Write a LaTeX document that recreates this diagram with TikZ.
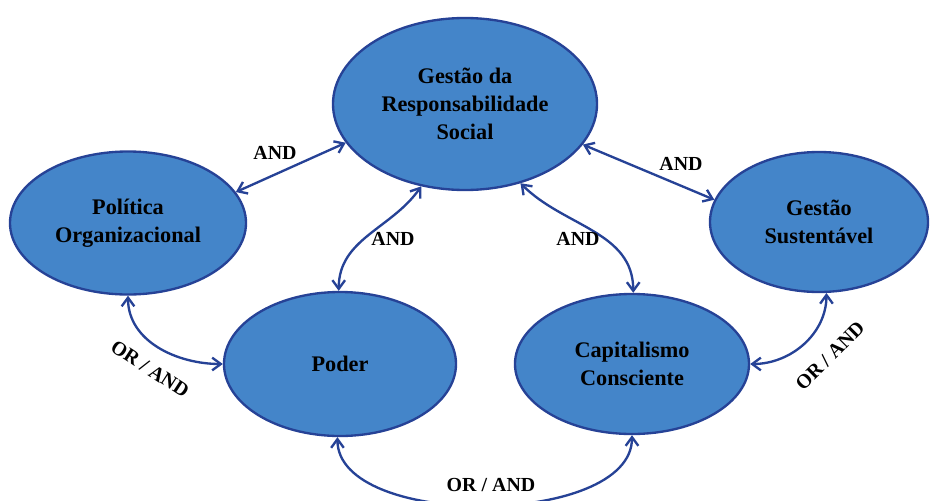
\documentclass[tikz,border=0pt]{standalone}
\usepackage{fontspec}
\setmainfont{Liberation Serif}
\usetikzlibrary{shapes.geometric,arrows.meta}
\definecolor{elfill}{RGB}{68,133,201}
\definecolor{eldraw}{RGB}{38,66,150}
\begin{document}
\begin{tikzpicture}[x=0.03cm,y=-0.03cm,
  el/.style={ellipse,draw=eldraw,line width=2pt,fill=elfill,inner sep=0pt,align=center,
    font=\fontsize{19}{24}\selectfont\bfseries},
  lk/.style={draw=eldraw,line width=2pt,{Straight Barb[length=2.6mm,width=3.8mm]}-{Straight Barb[length=2.6mm,width=3.8mm]}},
  lb/.style={font=\fontsize{17}{20}\selectfont\bfseries}]
   \useasboundingbox (0,0) rectangle (934,500);
   \clip (0,0) rectangle (934,500);

   \node[el,minimum width=7.92cm,minimum height=5.16cm] (gestao) at (465,104) {Gestão da\\Responsabilidade\\Social};
   \node[el,minimum width=7.08cm,minimum height=4.29cm] (politica) at (128,223) {Política\\Organizacional};
   \node[el,minimum width=6.54cm,minimum height=4.2cm] (sust) at (819,222) {Gestão\\Sustentável};
   \node[el,minimum width=6.96cm,minimum height=4.32cm] (poder) at (340,364) {Poder};
   \node[el,minimum width=7.02cm,minimum height=4.2cm] (capital) at (632,364) {Capitalismo\\Consciente};

   \path[lk] (politica.16) -- (gestao.198);
   \path[lk] (gestao.341) -- (sust.168);
   \path[lk] (gestao.242) to[out=235,in=90] (poder.91);
   \path[lk] (gestao.305) to[out=-45,in=90] (capital.89);
   \path[lk] (politica.270) to[out=270,in=180] (poder.180);
   \path[lk] (sust.276) to[out=270,in=0] (capital.0);
   \path[lk] (poder.268) to[out=270,in=270,looseness=0.8] (capital.270);

   \node[lb] (l1) at (275,153) {AND};
   \node[lb] (l2) at (681,164) {AND};
   \node[lb] (l3) at (393,239) {AND};
   \node[lb] (l4) at (578,239) {AND};
   \node[lb,rotate=-33] (l5) at (150,369) {OR / AND};
   \node[lb,rotate=45] (l6) at (830,356) {OR / AND};
   \node[lb] (l7) at (491,485) {OR / AND};
\end{tikzpicture}
\end{document}
